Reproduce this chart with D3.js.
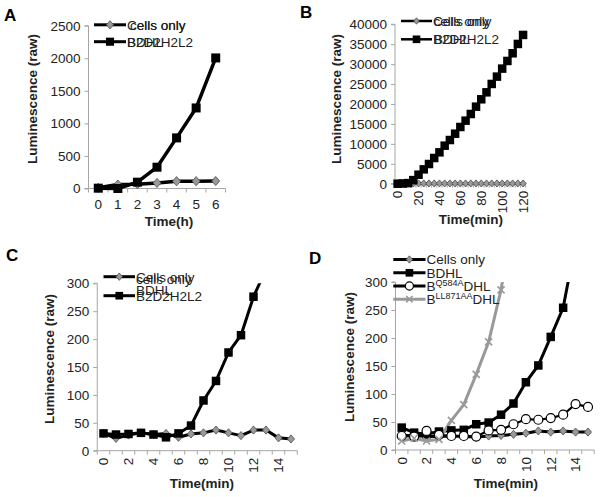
<!DOCTYPE html>
<html><head><meta charset="utf-8">
<script src="https://cdn.jsdelivr.net/npm/d3@7"></script>
<style>
body{margin:0;background:#fff;}
svg{display:block;font-family:"Liberation Sans",Arial,sans-serif;}
</style></head>
<body><svg id="c" width="600" height="497"></svg>
<script>
// ---------- DATA ----------
const catsA = ["0","1","2","3","4","5","6"];
const cellsA = [10, 60, 65, 85, 112, 112, 115];
const bdhlA  = [5, 0, 97, 327, 777, 1237, 2005];
const yTicksA = [0,500,1000,1500,2000,2500];

const catsB = [0,5,10,15,20,25,30,35,40,45,50,55,60,65,70,75,80,85,90,95,100,105,110,115,120];
const cellsB = [60,60,60,60,60,60,60,60,60,60,60,60,60,60,60,60,60,60,60,60,60,60,60,60,60];
const bdhlB = [0,50,150,900,2260,3600,4940,6450,7870,9540,10960,12550,14230,15820,17490,19330,21180,22930,25030,26870,28880,30800,32730,35070,37330];
const xLabelsB = [0,20,40,60,80,100,120];
const yTicksB = [0,5000,10000,15000,20000,25000,30000,35000,40000];

const catsC = [0,1,2,3,4,5,6,7,8,9,10,11,12,13,14,15];
const cellsC = [31,22,28,32,29,31,24,30,32,37,32,27,37,37,23,21];
const bdhlC  = [31,29,30,32,29,24,31,45,90,125,176,207,276,325,380,440];
const xLabelsCD = [0,2,4,6,8,10,12,14];
const yTicksCD = [0,50,100,150,200,250,300];

const catsD = [0,1,2,3,4,5,6,7,8,9,10,11,12,13,14,15];
const cellsD = [26,26,24,24,25,24,23,25,26,28,30,34,32,34,32,32];
const bdhlD  = [40,31,28,33,35,36,46,49,63,83,121,151,202,254,370,480];
const q584D  = [25,24,34,27,25,25,24,35,36,46,55,54,57,63,82,77];
const ll871D = [16,21,16,19,53,81,135,193,286,420];

// ---------- DRAW ----------
const svg = d3.select("#c");
const AX = "#a6a6a6";
const FS = 13.5;

function marker(g, type, x, y, s){
  if(type==="diamond"){
    g.append("path").attr("d", d3.symbol().type(d3.symbolDiamond2).size(s*s*0.5)())
      .attr("transform",`translate(${x},${y}) scale(1,1.15)`)
      .attr("fill","#999").attr("stroke","#555").attr("stroke-width",0.8);
  } else if(type==="square"){
    g.append("rect").attr("x",x-s/2).attr("y",y-s/2).attr("width",s).attr("height",s).attr("fill","#000");
  } else if(type==="circle"){
    g.append("circle").attr("cx",x).attr("cy",y).attr("r",s/2).attr("fill","#fff").attr("stroke","#000").attr("stroke-width",1.2);
  } else if(type==="x"){
    const h=s/2;
    g.append("path").attr("d",`M${x-h},${y-h}L${x+h},${y+h}M${x-h},${y+h}L${x+h},${y-h}`)
      .attr("stroke","#999").attr("stroke-width",1.6);
  }
}

let clipId=0;
function panel(cfg){
  const g = svg.append("g");
  const x = d3.scaleBand().domain(cfg.cats).range(cfg.xr).padding(0);
  const y = d3.scaleLinear().domain([0,cfg.ymax]).range(cfg.yr);
  const cx = d => x(d)+x.bandwidth()/2;
  // y axis
  const ya = g.append("g").attr("transform",`translate(${cfg.xr[0]},0)`)
    .call(d3.axisLeft(y).tickValues(cfg.yticks).tickSize(4).tickPadding(4).tickFormat(d3.format("d")));
  ya.select(".domain").attr("stroke",AX).attr("d",`M-4,${cfg.yr[1]}H0V${cfg.yr[0]}H-4`);
  ya.selectAll(".tick line").attr("stroke",AX);
  ya.selectAll("text").attr("font-size",FS).attr("fill","#222").attr("font-family","Liberation Sans, Arial");
  // x axis
  const xa = g.append("g").attr("transform",`translate(0,${cfg.yr[0]})`)
    .call(d3.axisBottom(x).tickSize(0).tickFormat(d => cfg.xlabels.includes(d) ? String(d) : ""));
  xa.select(".domain").attr("stroke",AX).attr("d",`M${cfg.xr[0]},0H${cfg.xr[1]}`);
  xa.selectAll(".tick text").remove();
  xa.selectAll(".tick").each(function(d){
    if(!cfg.xlabels.includes(d)) return;
    const t = d3.select(this).append("text").attr("fill","#222").attr("font-size",FS)
      .attr("font-family","Liberation Sans, Arial").text(String(d));
    if(cfg.rot){
      t.attr("text-anchor","end").attr("transform","translate(4.8,7) rotate(-90)");
    } else {
      t.attr("text-anchor","middle").attr("y",20.5);
    }
  });
  // boundary ticks
  const bounds = cfg.cats.map(d=>x(d)).concat([cfg.xr[1]]);
  xa.selectAll("line.bt").data(bounds).enter().append("line").attr("class","bt")
    .attr("x1",d=>d).attr("x2",d=>d).attr("y1",0).attr("y2",4).attr("stroke",AX);
  // clip
  const id = "clip"+(clipId++);
  svg.append("clipPath").attr("id",id).append("rect")
    .attr("x",cfg.xr[0]-10).attr("y",cfg.yr[1]).attr("width",cfg.xr[1]-cfg.xr[0]+20).attr("height",cfg.yr[0]-cfg.yr[1]+10);
  const pg = g.append("g").attr("clip-path",`url(#${id})`);
  cfg.series.forEach(s=>{
    const pts = s.vals.map((v,i)=>[cx(cfg.cats[i]), y(v)]);
    pg.append("path").attr("d", d3.line()(pts)).attr("fill","none")
      .attr("stroke",s.color).attr("stroke-width",s.lw).attr("stroke-linejoin","round");
  });
  cfg.series.forEach(s=>{
    s.vals.forEach((v,i)=>{ if(v<=cfg.ymax) marker(pg, s.marker, cx(cfg.cats[i]), y(v), s.ms); });
  });
  // titles
  g.append("text").attr("transform",`translate(${cfg.ytx},${cfg.yty}) rotate(-90)`)
    .attr("text-anchor","middle").attr("font-weight","bold").attr("font-size",FS).attr("fill","#222")
    .text("Luminescence (raw)");
  g.append("text").attr("x",cfg.xtx).attr("y",cfg.xty).attr("text-anchor","middle")
    .attr("font-weight","bold").attr("font-size",FS).attr("fill","#222").text(cfg.xtitle);
  g.append("text").attr("x",cfg.lx).attr("y",cfg.ly).attr("font-weight","bold").attr("font-size",17)
    .attr("fill","#000").text(cfg.letter);
  // legend
  cfg.legend.forEach((L,i)=>{
    const s = cfg.series[i];
    const ly = L.y;
    g.append("line").attr("x1",cfg.leg[0]).attr("x2",cfg.leg[1]).attr("y1",ly).attr("y2",ly)
      .attr("stroke",s.color).attr("stroke-width",cfg.legLw||3);
    marker(g, s.marker, (cfg.leg[0]+cfg.leg[1])/2, ly, s.ms*0.9);
    L.texts.forEach(t=>{
      const te = g.append("text").attr("x",cfg.leg[1]+1+(t.dx||0)).attr("y",ly+4.8+(t.dy||0))
        .attr("font-size",FS).attr("fill","#222");
      if(t.sup){
        te.append("tspan").text(t.pre);
        te.append("tspan").attr("font-size",9).attr("dy",-5).text(t.sup);
        te.append("tspan").attr("dy",5).text(t.post);
      } else te.text(t.s);
    });
  });
}

panel({
  cats: catsA, xr:[88.5,225.5], yr:[188.5,25.7], ymax:2500, yticks:yTicksA, xlabels:catsA, rot:false,
  series:[{vals:cellsA,color:"#000",marker:"diamond",lw:3.5,ms:9},{vals:bdhlA,color:"#000",marker:"square",lw:3.5,ms:9}],
  ytx:37, yty:99, xtx:169, xty:226, xtitle:"Time(h)", lx:4, ly:21, letter:"A",
  leg:[94,126],
  legend:[{y:24.8,texts:[{s:"Cells only"},{s:"cells only",dx:3}]},
          {y:41.7,texts:[{s:"B2D2H2L2"},{s:"BDHL",dx:0}]}]
});
panel({
  cats: catsB, xr:[395,525.7], yr:[183.7,24.3], ymax:40000, yticks:yTicksB, xlabels:xLabelsB, rot:true,
  series:[{vals:cellsB,color:"#000",marker:"diamond",lw:2.5,ms:7},{vals:bdhlB,color:"#000",marker:"square",lw:2.5,ms:8.5}],
  ytx:341, yty:99, xtx:471, xty:224, xtitle:"Time(min)", lx:300, ly:18, letter:"B",
  leg:[401,432], legLw:2.5,
  legend:[{y:21,texts:[{s:"Cells only"},{s:"cells only",dx:0.5}]},
          {y:39.3,texts:[{s:"B2D2H2L2"},{s:"BDHL",dx:1}]}]
});
panel({
  cats: catsC, xr:[97.25,297.25], yr:[450.7,283.3], ymax:300, yticks:yTicksCD, xlabels:xLabelsCD, rot:true,
  series:[{vals:cellsC,color:"#000",marker:"diamond",lw:3,ms:8},{vals:bdhlC,color:"#000",marker:"square",lw:3,ms:8.5}],
  ytx:54, yty:359, xtx:202, xty:487.5, xtitle:"Time(min)", lx:6, ly:261, letter:"C",
  leg:[103.5,135],
  legend:[{y:276.7,texts:[{s:"Cells only"},{s:"cells only",dy:2}]},
          {y:295.7,texts:[{s:"B2D2H2L2"},{s:"BDHL",dy:-5.5}]}]
});
panel({
  cats: catsD, xr:[395.5,594.2], yr:[450,282], ymax:300, yticks:yTicksCD, xlabels:xLabelsCD, rot:true,
  series:[{vals:cellsD,color:"#000",marker:"diamond",lw:3,ms:8},
          {vals:bdhlD,color:"#000",marker:"square",lw:3,ms:8.5},
          {vals:q584D,color:"#000",marker:"circle",lw:2.2,ms:9},
          {vals:ll871D,color:"#999",marker:"x",lw:3,ms:7}],
  ytx:354, yty:357, xtx:506, xty:487.5, xtitle:"Time(min)", lx:309, ly:264, letter:"D",
  leg:[393.3,425.5],
  legend:[{y:259.5,texts:[{s:"Cells only"}]},
          {y:272.8,texts:[{s:"BDHL"}]},
          {y:286,texts:[{sup:"Q584A",pre:"B",post:"DHL"}]},
          {y:299.2,texts:[{sup:"LL871AA",pre:"B",post:"DHL"}]}]
});
</script></body></html>
